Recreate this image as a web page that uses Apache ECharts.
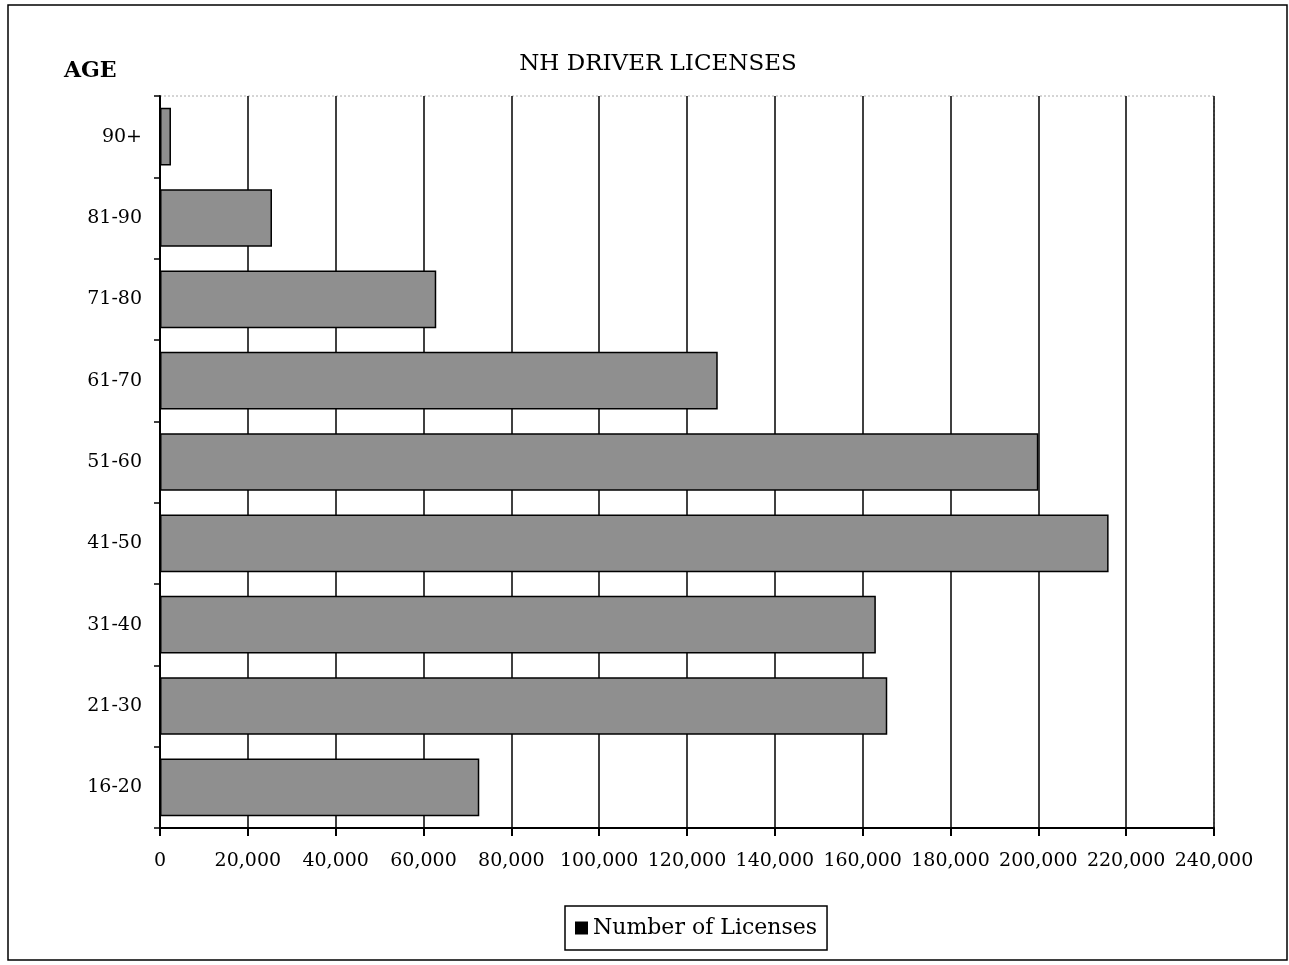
<!DOCTYPE html>
<html>
<head>
<meta charset="utf-8">
<script src="https://cdn.jsdelivr.net/npm/echarts@6/dist/echarts.min.js"></script>
<style>
  html, body { margin: 0; padding: 0; background: #fff; }
  #main { width: 1289px; height: 965px; }
</style>
</head>
<body>
<div id="main"></div>
<script>
var ageGroups = ['16-20', '21-30', '31-40', '41-50', '51-60', '61-70', '71-80', '81-90', '90+'];
var licenses = [72700, 165600, 163000, 216000, 200000, 127000, 62900, 25500, 2500];
var xTicks = [0, 20000, 40000, 60000, 80000, 100000, 120000, 140000, 160000, 180000, 200000, 220000, 240000];

var serif = '"DejaVu Serif", "Liberation Serif", serif';
var chart = echarts.init(document.getElementById('main'));

chart.setOption({
  backgroundColor: '#fff',
  animation: false,
  textStyle: { fontFamily: serif, color: '#000' },
  title: {
    text: 'NH DRIVER LICENSES',
    left: 653, top: 48, textAlign: 'center',
    textStyle: { fontFamily: serif, fontSize: 23, fontWeight: 'normal', color: '#000' }
  },
  graphic: [
    { type: 'rect', shape: { x: 8, y: 5, width: 1279, height: 955 },
      style: { fill: 'none', stroke: '#000', lineWidth: 1.5 } },
    { type: 'text', left: 64, top: 60,
      style: { text: 'AGE', font: 'bold 22px ' + serif, fill: '#000' } },
    // faint top and right edges of the plot area
    { type: 'polyline', shape: { points: [[160, 96], [1214, 96], [1214, 828]] },
      style: { stroke: '#aaa', lineWidth: 1, lineDash: [2, 2], fill: 'none' } }
  ],
  legend: {
    bottom: 15, left: 565,
    data: [{ name: 'Number of Licenses', itemStyle: { color: '#000', borderWidth: 0 } }],
    icon: 'rect', itemWidth: 13, itemHeight: 13, itemGap: 4,
    borderColor: '#000', borderWidth: 1.5, padding: [11, 10],
    textStyle: { fontFamily: serif, fontSize: 22, color: '#000' }
  },
  grid: { left: 160, top: 96, width: 1054, height: 732, containLabel: false },
  xAxis: {
    type: 'value', min: 0, max: 240000, interval: 20000,
    axisLine: { show: true, lineStyle: { color: '#000', width: 2 } },
    axisTick: { show: true, length: 8, lineStyle: { color: '#000', width: 2 } },
    splitLine: { show: true, lineStyle: { color: '#000', width: 1.5 } },
    axisLabel: {
      margin: 24, fontSize: 19, fontFamily: serif, color: '#000',
      formatter: function (v) { return xTicks.indexOf(v) >= 0 ? v.toLocaleString('en-US') : ''; }
    }
  },
  yAxis: {
    type: 'category', data: ageGroups,
    axisLine: { show: true, lineStyle: { color: '#000', width: 2 } },
    axisTick: { show: true, length: 6, lineStyle: { color: '#000', width: 1.5 } },
    axisLabel: { margin: 18, fontSize: 19, fontFamily: serif, color: '#000' }
  },
  series: [{
    name: 'Number of Licenses',
    type: 'bar',
    data: licenses,
    barWidth: '71%',
    itemStyle: { color: '#8f8f8f', borderColor: '#000', borderWidth: 1.5 }
  }]
});
</script>
</body>
</html>
